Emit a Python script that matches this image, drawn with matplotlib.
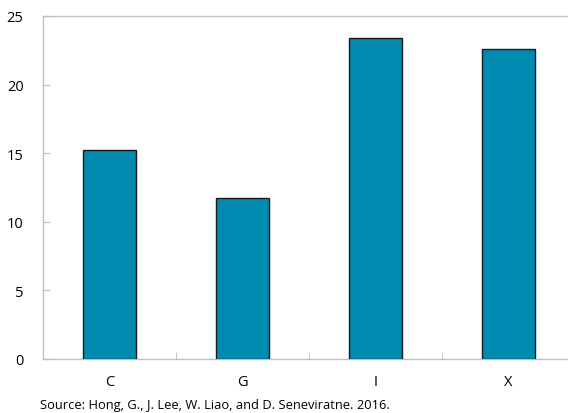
import matplotlib
matplotlib.use("Agg")
import matplotlib.pyplot as plt
import numpy as np

categories = ["C", "G", "I", "X"]
values = [15.2, 11.7, 23.4, 22.6]
yticks = [0, 5, 10, 15, 20, 25]
source = "Source: Hong, G., J. Lee, W. Liao, and D. Seneviratne. 2016."

plt.rcParams['font.family'] = ['Open Sans', 'DejaVu Sans']

W, H = 568, 414
fig = plt.figure(figsize=(W/100, H/100), dpi=100)
left, right, top, bottom = 43, 575, 17, 360
ax = fig.add_axes([left/W, 1 - bottom/H, (right-left)/W, (bottom-top)/H])

x = np.arange(len(categories))
ax.bar(x, values, width=0.4, color="#008AAF", edgecolor="#1a1a1a", linewidth=1.0, zorder=3)

ax.set_xlim(-0.5, len(categories) - 0.5)
ax.set_ylim(0, 25)
ax.set_yticks(yticks)
ax.set_yticklabels([str(t) for t in yticks], fontsize=10.5)
ax.set_xticks(x)
ax.set_xticklabels(categories, fontsize=10.5)
ax.set_xticks(np.arange(0.5, len(categories) - 0.5, 1), minor=True)

for s in ["left", "top", "bottom", "right"]:
    ax.spines[s].set_color("#BFBFBF")
    ax.spines[s].set_linewidth(1.0)

ax.tick_params(axis="y", direction="in", length=5, color="#BFBFBF", pad=14)
ax.tick_params(axis="x", which="major", length=0, pad=11)
ax.tick_params(axis="x", which="minor", direction="in", length=5, color="#BFBFBF")

fig.text(40/W, 1 - 406/H, source, fontsize=9.3, va="center", ha="left")

fig.savefig("out.png", dpi=100)
